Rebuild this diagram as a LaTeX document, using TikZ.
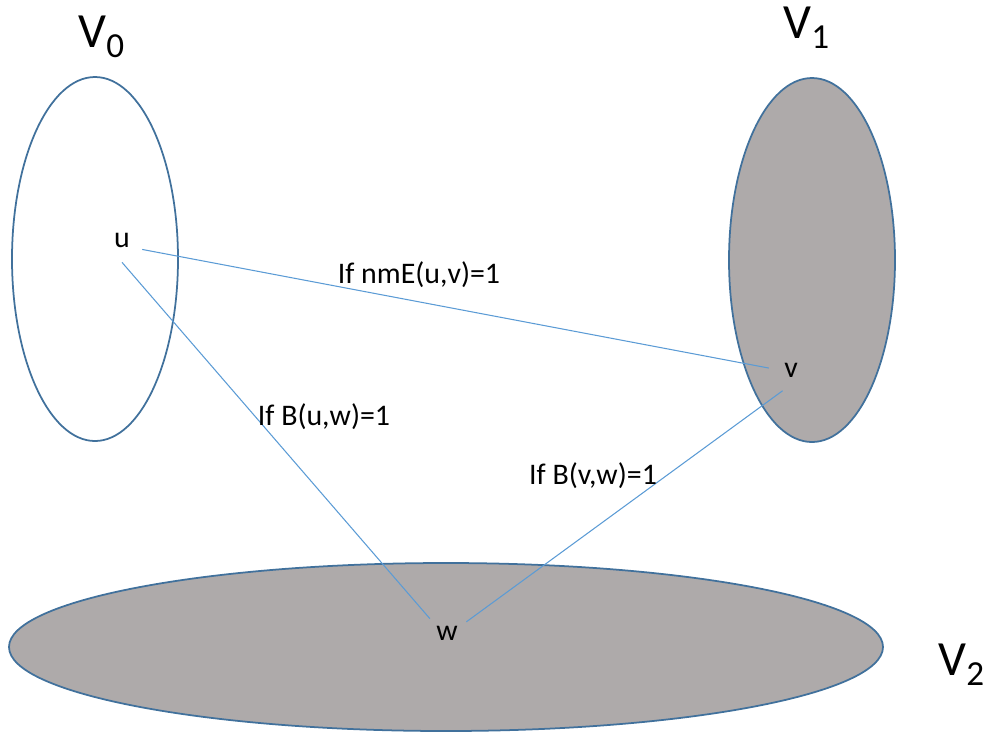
\documentclass[tikz,border=0pt]{standalone}
\usepackage{fontspec}
\setmainfont{Carlito}
\usepackage{tikz}
\usetikzlibrary{positioning}

\begin{document}
\begin{tikzpicture}[x=0.02cm, y=-0.02cm,
    setline/.style={draw=cborder, line width=1pt},
    link/.style={draw=clink, line width=0.6pt},
    vtx/.style={circle, minimum size=0.88cm, inner sep=0pt, font=\fontsize{17}{19}\selectfont},
    cond/.style={inner sep=1pt, font=\fontsize{17}{19}\selectfont},
    setname/.style={anchor=base west, inner sep=0pt, font=\fontsize{28}{30}\selectfont}]
    \definecolor{cfill}{HTML}{AEAAAA}
    \definecolor{cborder}{HTML}{41719C}
    \definecolor{clink}{HTML}{5B9BD5}
    \newcommand{\setsub}[1]{{\fontsize{20}{22}\selectfont\raisebox{-5.7pt}{#1}}}

    \useasboundingbox (0,0) rectangle (990,738);

    % Sets
    \draw[setline] (95,259) ellipse [x radius=83, y radius=182];
    \draw[setline, fill=cfill] (812,260) ellipse [x radius=83, y radius=182];
    \draw[setline, fill=cfill] (446,647) ellipse [x radius=437, y radius=84];

    \node[setname] (n0) at (78,47) {V\setsub{0}};
    \node[setname] (n1) at (783,38) {V\setsub{1}};
    \node[setname] (n2) at (938,675) {V\setsub{2}};

    % Vertices
    \node[vtx] (u) at (122,240) {u};
    \node[vtx] (v) at (791,370) {v};
    \node[vtx] (w) at (447,633) {w};

    % Edges
    \draw[link] (u.-25) -- (v.175);
    \draw[link] (u.-90) -- (w.140);
    \draw[link] (v.-112) -- (w.30);

    \node[cond] (luv) at (419,275) {If nmE(u,v)=1};
    \node[cond] (luw) at (324,417) {If B(u,w)=1};
    \node[cond] (lvw) at (593,476) {If B(v,w)=1};
\end{tikzpicture}
\end{document}
